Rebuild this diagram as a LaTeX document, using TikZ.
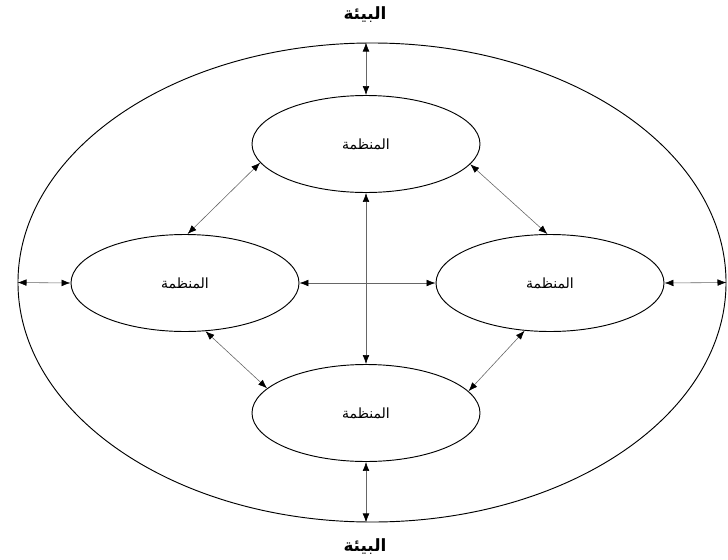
\documentclass[tikz,border=0pt]{standalone}
\usepackage{fontspec}
\usetikzlibrary{shapes.geometric,arrows.meta}
\newfontfamily\arabicfont[Script=Arabic]{DejaVu Sans}
\TeXXeTstate=1
\tikzset{org/.style={ellipse, draw=black, line width=0.8pt, minimum width=6.84cm, minimum height=2.91cm, inner sep=0pt, font=\arabicfont\large},
  link/.style={{Latex[length=2.7mm,width=2mm,color=black]}-{Latex[length=2.7mm,width=2mm,color=black]}, draw=black!60, line width=0.5pt}}

\begin{document}
\begin{tikzpicture}[x=0.03cm,y=-0.03cm]
      \useasboundingbox (0,0) rectangle (728,559);
      \node[ellipse, draw=black, line width=0.8pt, minimum width=21.24cm, minimum height=14.37cm, inner sep=0pt] (env) at (372,282.5) {};
      \node[font=\arabicfont\bfseries\Large] (envT) at (365,15) {\beginR البيئة\endR};
      \node[font=\arabicfont\bfseries\Large] (envB) at (365,547) {\beginR البيئة\endR};

      \node[org] (orgT) at (366,144) {\beginR المنظمة\endR};
      \node[org] (orgL) at (185,283) {\beginR المنظمة\endR};
      \node[org] (orgR) at (550,283) {\beginR المنظمة\endR};
      \node[org] (orgB) at (366,413) {\beginR المنظمة\endR};

      % to the environment
      \draw[link] (orgT.north |- env.north) -- (orgT.north);
      \draw[link] (orgB.south) -- (orgB.south |- env.south);
      \draw[link] (env.west) -- (orgL.west);
      \draw[link] (orgR.east) -- (env.east);

      % between the organisations
      \draw[link] (orgT.south) -- (orgB.north);
      \draw[link] (orgL.east) -- (orgR.west);
      \draw[link] (orgT.190) -- (orgL.87);
      \draw[link] (orgT.349) -- (orgR.93);
      \draw[link] (orgL.293) -- (orgB.166);
      \draw[link] (orgB.12) -- (orgR.242);
  \end{tikzpicture}
\end{document}
